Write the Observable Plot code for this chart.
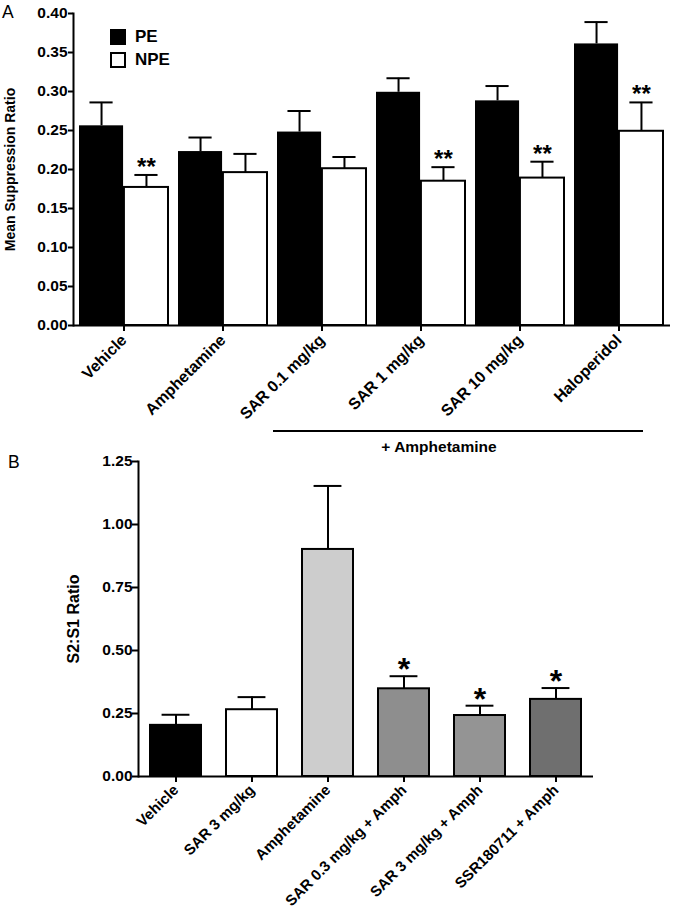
<!DOCTYPE html>
<html><head><meta charset="utf-8">
<script src="https://cdn.jsdelivr.net/npm/d3@7"></script>
<script src="https://cdn.jsdelivr.net/npm/@observablehq/plot@0.6"></script>
<style>
body{margin:0;background:#fff;font-family:"Liberation Sans",Arial,sans-serif;color:#000;}
#wrap{position:relative;width:675px;height:913px;overflow:hidden;background:#fff;}
#wrap svg{position:absolute;left:0;}
.abs{position:absolute;line-height:1;white-space:nowrap;}
.letter{font-size:17.5px;font-weight:normal;}
.legsq{position:absolute;width:12px;height:12px;border:2px solid #000;}
.legtx{position:absolute;font-size:17px;font-weight:bold;line-height:1;}
</style></head><body><div id="wrap"></div>
<script>
// ---------- Panel A data ----------
const groupsA = ["Vehicle", "Amphetamine", "SAR 0.1 mg/kg", "SAR 1 mg/kg", "SAR 10 mg/kg", "Haloperidol"];
const seriesA = ["PE", "NPE"];
const seriesFillA = ["#000000", "#ffffff"];
const peMeans = [0.256, 0.223, 0.248, 0.299, 0.288, 0.361];
const peSem   = [0.030, 0.018, 0.027, 0.018, 0.019, 0.028];
const npeMeans = [0.177, 0.196, 0.201, 0.185, 0.189, 0.249];
const npeSem   = [0.016, 0.024, 0.015, 0.018, 0.021, 0.037];
const sigA = ["**", "", "", "**", "**", "**"];
const yTicksA = [0, 0.05, 0.10, 0.15, 0.20, 0.25, 0.30, 0.35, 0.40];
const yLabelA = "Mean Suppression Ratio";
const bracketLabel = "+ Amphetamine";

// ---------- Panel B data ----------
const groupsB = ["Vehicle", "SAR 3 mg/kg", "Amphetamine", "SAR 0.3 mg/kg + Amph", "SAR 3 mg/kg + Amph", "SSR180711 + Amph"];
const valuesB = [0.203, 0.265, 0.901, 0.348, 0.242, 0.306];
const semB    = [0.042, 0.050, 0.252, 0.050, 0.039, 0.045];
const fillsB  = ["#000000", "#ffffff", "#cdcdcd", "#8e8e8e", "#949494", "#6f6f6f"];
const sigB = ["", "", "", "*", "*", "*"];
const yTicksB = [0, 0.25, 0.50, 0.75, 1.00, 1.25];
const yLabelB = "S2:S1 Ratio";

const font = '"Liberation Sans", Arial, sans-serif';
const wrap = document.getElementById("wrap");
const fmt = d3.format(".2f");

// ---------- Panel A ----------
const A = {width: 675, height: 425, mt: 13, mb: 100, ml: 73, mr: 5, pi: 0.1, po: 0.04};
const xA = d3.scaleBand(groupsA, [A.ml, A.width - A.mr]).paddingInner(A.pi).paddingOuter(A.po);
const halfA = xA.bandwidth() / 2;
const capA = 24, capInA = (halfA - capA) / 2;
const dataA = groupsA.map((g, i) => ({
  group: g, pe: peMeans[i], peTop: peMeans[i] + peSem[i],
  npe: npeMeans[i], npeTop: npeMeans[i] + npeSem[i], sig: sigA[i]
}));

const plotA = Plot.plot({
  width: A.width, height: A.height,
  marginTop: A.mt, marginBottom: A.mb, marginLeft: A.ml, marginRight: A.mr,
  style: {fontFamily: font, fontWeight: "bold", fontSize: "15px", color: "black", background: "transparent", overflow: "visible"},
  x: {domain: groupsA, paddingInner: A.pi, paddingOuter: A.po, label: null},
  y: {domain: [0, 0.4], label: null},
  marks: [
    Plot.ruleX(dataA, {x: "group", y1: "pe", y2: "peTop", dx: -halfA / 2, strokeWidth: 2}),
    Plot.tickY(dataA, {x: "group", y: "peTop", insetLeft: capInA, insetRight: halfA + capInA, strokeWidth: 2}),
    Plot.ruleX(dataA, {x: "group", y1: "npe", y2: "npeTop", dx: halfA / 2, strokeWidth: 2}),
    Plot.tickY(dataA, {x: "group", y: "npeTop", insetLeft: halfA + capInA, insetRight: capInA, strokeWidth: 2}),
    Plot.barY(dataA, {x: "group", y: "pe", fill: seriesFillA[0], insetRight: halfA}),
    Plot.barY(dataA, {x: "group", y: "npe", fill: seriesFillA[1], stroke: "black", strokeWidth: 2, insetLeft: halfA}),
    Plot.text(dataA, {x: "group", y: "npeTop", text: "sig", dx: halfA / 2, lineAnchor: "bottom", fontSize: 24}),
    Plot.axisY({ticks: yTicksA, tickFormat: fmt, tickSize: 5, tickPadding: 1, strokeWidth: 2, fontSize: 15.5, label: null}),
    Plot.axisX({tickRotate: -45, tickSize: 6, tickPadding: 6, strokeWidth: 2, fontSize: 16, label: null}),
    Plot.ruleY([0], {strokeWidth: 2}),
    Plot.frame({anchor: "left", strokeWidth: 2}),
    Plot.text([yLabelA], {frameAnchor: "left", rotate: -90, dx: -63, textAnchor: "middle", lineAnchor: "middle", fontSize: 14})
  ]
});
plotA.style.top = "0px";
wrap.appendChild(plotA);

// legend A
seriesA.forEach((s, i) => {
  const sq = document.createElement("div");
  sq.className = "legsq";
  sq.style.left = "110px"; sq.style.top = (29 + i * 23) + "px";
  sq.style.background = seriesFillA[i];
  wrap.appendChild(sq);
  const tx = document.createElement("div");
  tx.className = "legtx";
  tx.textContent = s;
  tx.style.left = "135px"; tx.style.top = (28 + i * 23) + "px";
  wrap.appendChild(tx);
});

// panel letters
const la = document.createElement("div"); la.className = "abs letter"; la.textContent = "A";
la.style.left = "2px"; la.style.top = "4px"; wrap.appendChild(la);
const lb = document.createElement("div"); lb.className = "abs letter"; lb.textContent = "B";
lb.style.left = "8px"; lb.style.top = "454px"; wrap.appendChild(lb);

// bracket
const br = document.createElement("div");
br.className = "abs";
br.style.cssText += "left:273px;top:430px;width:370px;height:0;border-top:2px solid #000;";
wrap.appendChild(br);
const bt = document.createElement("div");
bt.className = "abs"; bt.textContent = bracketLabel;
bt.style.cssText += "left:439px;top:439px;transform:translateX(-50%);font-size:15.5px;font-weight:bold;";
wrap.appendChild(bt);

// ---------- Panel B ----------
const B = {top: 440, width: 675, height: 473, mt: 21, mb: 137, ml: 138, mr: 82, pi: 0.33, po: 0.145};
const xB = d3.scaleBand(groupsB, [B.ml, B.width - B.mr]).paddingInner(B.pi).paddingOuter(B.po);
const bwB = xB.bandwidth();
const capB = 28, capInB = (bwB - capB) / 2;
const dataB = groupsB.map((g, i) => ({group: g, v: valuesB[i], top: valuesB[i] + semB[i], fill: fillsB[i], sig: sigB[i]}));

const plotB = Plot.plot({
  width: B.width, height: B.height,
  marginTop: B.mt, marginBottom: B.mb, marginLeft: B.ml, marginRight: B.mr,
  style: {fontFamily: font, fontWeight: "bold", fontSize: "15px", color: "black", background: "transparent", overflow: "visible"},
  x: {domain: groupsB, paddingInner: B.pi, paddingOuter: B.po, label: null},
  y: {domain: [0, 1.25], label: null},
  color: {type: "identity"},
  marks: [
    Plot.ruleX(dataB, {x: "group", y1: "v", y2: "top", strokeWidth: 2}),
    Plot.tickY(dataB, {x: "group", y: "top", insetLeft: capInB, insetRight: capInB, strokeWidth: 2}),
    Plot.barY(dataB, {x: "group", y: "v", fill: "fill", stroke: "black", strokeWidth: 2}),
    Plot.text(dataB, {x: "group", y: "top", text: "sig", lineAnchor: "bottom", dy: 4, fontSize: 32}),
    Plot.axisY({ticks: yTicksB, tickFormat: fmt, tickSize: 6, tickPadding: 0, strokeWidth: 2, fontSize: 15.5, label: null}),
    Plot.axisX({tickRotate: -45, tickSize: 6, tickPadding: 5, strokeWidth: 2, fontSize: 15, label: null}),
    Plot.ruleY([0], {strokeWidth: 2}),
    Plot.frame({anchor: "left", strokeWidth: 2}),
    Plot.text([yLabelB], {frameAnchor: "left", rotate: -90, dx: -65, textAnchor: "middle", lineAnchor: "middle", fontSize: 16})
  ]
});
plotB.style.top = B.top + "px";
wrap.appendChild(plotB);
</script>
</body></html>
